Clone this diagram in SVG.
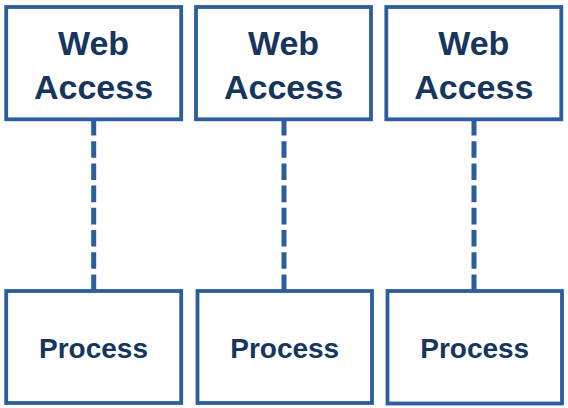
<svg xmlns="http://www.w3.org/2000/svg" width="568" height="408" viewBox="0 0 568 408">
  <style>
    .box { fill: #ffffff; stroke: #2c5d9c; stroke-width: 3.8; }
    .link { stroke: #2c5d9c; stroke-width: 5; stroke-dasharray: 16.6 5.6; fill: none; }
    .label { font-family: "Liberation Sans", Arial, sans-serif; font-weight: bold; fill: #17365d; text-anchor: middle; }
    .big { font-size: 34px; }
    .small { font-size: 28px; }
  </style>
  <rect width="568" height="408" fill="#ffffff"/>

  <!-- dashed connectors between each web access node and its process -->
  <g id="connectors">
    <line class="link" x1="93.7" y1="119" x2="93.7" y2="292"/>
    <line class="link" x1="284" y1="119" x2="284" y2="292"/>
    <line class="link" x1="474" y1="119" x2="474" y2="292"/>
  </g>

  <g id="web1">
    <rect class="box" x="6.2" y="7" width="175" height="112.3"/>
    <text class="label big" x="93.5" y="55">Web</text>
    <text class="label big" x="93.5" y="99">Access</text>
  </g>
  <g id="web2">
    <rect class="box" x="196" y="7" width="175" height="112.3"/>
    <text class="label big" x="283.5" y="55">Web</text>
    <text class="label big" x="283.5" y="99">Access</text>
  </g>
  <g id="web3">
    <rect class="box" x="386.3" y="7" width="175" height="112.3"/>
    <text class="label big" x="473.8" y="55">Web</text>
    <text class="label big" x="473.8" y="99">Access</text>
  </g>

  <g id="process1">
    <rect class="box" x="6.2" y="291" width="175" height="112"/>
    <text class="label small" x="93.5" y="358">Process</text>
  </g>
  <g id="process2">
    <rect class="box" x="197.5" y="291" width="174.5" height="112"/>
    <text class="label small" x="284.7" y="358">Process</text>
  </g>
  <g id="process3">
    <rect class="box" x="387.5" y="291" width="174.5" height="112.5"/>
    <text class="label small" x="474.7" y="358">Process</text>
  </g>
</svg>
